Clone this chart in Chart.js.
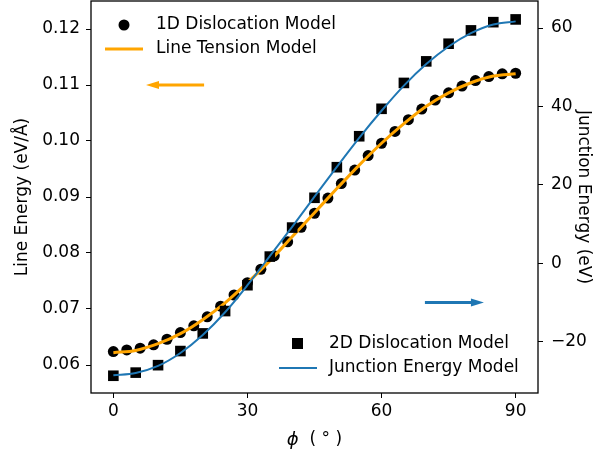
<!DOCTYPE html>
<html>
<head>
<meta charset="utf-8">
<script src="https://cdn.jsdelivr.net/npm/chart.js@4/dist/chart.umd.min.js"></script>
<style>
  body { margin: 0; background: #fff; }
  #wrap { width: 594px; height: 453px; }
</style>
</head>
<body>
<div id="wrap"><canvas id="junctionChart" width="594" height="453"></canvas></div>
<script>
// angles (deg)
const anglesCircles = [0, 3, 6, 9, 12, 15, 18, 21, 24, 27, 30, 33, 36, 39, 42, 45, 48, 51, 54, 57, 60, 63, 66, 69, 72, 75, 78, 81, 84, 87, 90];
const anglesSquares = [0, 5, 10, 15, 20, 25, 30, 35, 40, 45, 50, 55, 60, 65, 70, 75, 80, 85, 90];
const anglesModel = [0, 5, 10, 15, 20, 25, 30, 35, 40, 45, 50, 55, 60, 65, 70, 75, 80, 85, 90];

// 1D dislocation model, line energy (eV/A), left axis
const lineEnergy1D = [0.0624, 0.0627, 0.0630, 0.0636, 0.0646, 0.0658, 0.0670, 0.0686, 0.0705, 0.0725,
    0.0747, 0.0771, 0.0795, 0.0820, 0.0846, 0.0871, 0.0898, 0.0924, 0.0948, 0.0974,
    0.0996, 0.1017, 0.1038, 0.1057, 0.1073, 0.1086, 0.1098, 0.1108, 0.1115, 0.1120, 0.1121];
// line tension model (left axis)
const lineTension = [0.0622, 0.0626, 0.0638, 0.0656, 0.0681, 0.0711, 0.0747, 0.0786, 0.0829, 0.0872,
    0.0915, 0.0957, 0.0996, 0.1031, 0.1062, 0.1086, 0.1104, 0.1116, 0.1120];

// 2D dislocation model, junction energy (eV), right axis
const junction2D = [-28.7, -27.9, -26.0, -22.4, -17.9, -12.2, -5.6, 1.7, 9.1, 16.7,
    24.5, 32.4, 39.4, 46.0, 51.5, 56.0, 59.4, 61.5, 62.2];
// junction energy model (right axis)
const junctionModel = [-28.6, -28.0, -26.2, -22.9, -18.3, -12.5, -5.6, 1.8, 9.3, 17.0,
    24.6, 32.0, 38.9, 45.3, 50.8, 55.3, 58.7, 60.9, 61.7];

// ticks
const xTicks = [0, 30, 60, 90];
const yLeftTicks = [0.06, 0.07, 0.08, 0.09, 0.10, 0.11, 0.12];
const yRightTicks = [-20, 0, 20, 40, 60];

const ORANGE = '#ffa500';
const BLUE = '#1f77b4';
const FONT = 'DejaVu Sans';
const FSIZE = 17;

const toPoints = (xs, ys) => xs.map((x, i) => ({ x: x, y: ys[i] }));

// no extra padding from the end tick labels
const noPad = (scale) => {
    scale.paddingTop = 0;
    scale.paddingBottom = 0;
    scale.paddingLeft = 0;
    scale.paddingRight = 0;
};

// frame, legends, arrows and the x title (italic phi, upright rest)
const extrasPlugin = {
    id: 'extras',
    afterDraw(chart) {
        let ctx = chart.ctx;
        let a = chart.chartArea;
        let sx = chart.scales.x;
        let yl = chart.scales.yLeft;
        let yr = chart.scales.yRight;
        ctx.save();

        // frame
        ctx.strokeStyle = '#000';
        ctx.lineWidth = 1.3;
        ctx.strokeRect(a.left, a.top, a.right - a.left, a.bottom - a.top);

        // arrows
        const arrow = (x0, x1, y, color, dir) => {
            ctx.strokeStyle = color;
            ctx.fillStyle = color;
            ctx.lineWidth = 3;
            ctx.beginPath();
            ctx.moveTo(x0, y);
            ctx.lineTo(x1 - dir * 12, y);
            ctx.stroke();
            ctx.beginPath();
            ctx.moveTo(x1, y);
            ctx.lineTo(x1 - dir * 13, y - 4);
            ctx.lineTo(x1 - dir * 13, y + 4);
            ctx.closePath();
            ctx.fill();
        };
        arrow(sx.getPixelForValue(20.3), sx.getPixelForValue(7.3), yl.getPixelForValue(0.11), ORANGE, -1);
        arrow(sx.getPixelForValue(69.7), sx.getPixelForValue(82.9), yr.getPixelForValue(-10), BLUE, 1);

        ctx.textBaseline = 'middle';
        ctx.textAlign = 'left';
        ctx.fillStyle = '#000';

        // x axis title
        let phiFont = 'italic 18px "' + FONT + '"';
        let restFont = '17px "' + FONT + '"';
        ctx.font = phiFont;
        let wPhi = ctx.measureText('ϕ').width;
        ctx.font = restFont;
        let rest = '  ( ° )';
        let wRest = ctx.measureText(rest).width;
        let tx = (a.left + a.right) / 2 - (wPhi + wRest) / 2;
        ctx.font = phiFont;
        ctx.fillText('ϕ', tx, 440);
        ctx.font = restFont;
        ctx.fillText(rest, tx + wPhi, 440);

        // legends
        ctx.font = FSIZE + 'px "' + FONT + '"';

        // upper left
        ctx.beginPath();
        ctx.arc(a.left + 33, a.top + 24, 5.5, 0, Math.PI * 2);
        ctx.fill();
        ctx.fillText('1D Dislocation Model', a.left + 65, a.top + 24);
        ctx.strokeStyle = ORANGE;
        ctx.lineWidth = 3;
        ctx.beginPath();
        ctx.moveTo(a.left + 14, a.top + 48);
        ctx.lineTo(a.left + 52, a.top + 48);
        ctx.stroke();
        ctx.fillText('Line Tension Model', a.left + 65, a.top + 48);

        // lower right
        ctx.fillRect(a.right - 246, a.bottom - 55, 11, 11);
        ctx.fillText('2D Dislocation Model', a.right - 209, a.bottom - 49);
        ctx.strokeStyle = BLUE;
        ctx.lineWidth = 2;
        ctx.beginPath();
        ctx.moveTo(a.right - 259, a.bottom - 25);
        ctx.lineTo(a.right - 221, a.bottom - 25);
        ctx.stroke();
        ctx.fillText('Junction Energy Model', a.right - 209, a.bottom - 25);

        ctx.restore();
    }
};

let ctx = document.getElementById('junctionChart');
let myChart = new Chart(ctx, {
    type: 'scatter',
    data: {
        datasets: [
            {
                label: 'Junction Energy Model',
                data: toPoints(anglesModel, junctionModel),
                yAxisID: 'yRight',
                showLine: true,
                borderColor: BLUE,
                borderWidth: 2,
                pointRadius: 0,
                cubicInterpolationMode: 'monotone',
                order: 0
            },
            {
                label: '2D Dislocation Model',
                data: toPoints(anglesSquares, junction2D),
                yAxisID: 'yRight',
                pointStyle: 'rect',
                pointRadius: 7.5,
                backgroundColor: '#000',
                borderColor: '#000',
                borderWidth: 0,
                order: 1
            },
            {
                label: 'Line Tension Model',
                data: toPoints(anglesModel, lineTension),
                yAxisID: 'yLeft',
                showLine: true,
                borderColor: ORANGE,
                borderWidth: 3,
                pointRadius: 0,
                cubicInterpolationMode: 'monotone',
                order: 2
            },
            {
                label: '1D Dislocation Model',
                data: toPoints(anglesCircles, lineEnergy1D),
                yAxisID: 'yLeft',
                pointStyle: 'circle',
                pointRadius: 5.5,
                backgroundColor: '#000',
                borderColor: '#000',
                borderWidth: 0,
                order: 3
            }
        ]
    },
    options: {
        responsive: false,
        animation: false,
        devicePixelRatio: 1,
        layout: { autoPadding: false, padding: { top: 1, left: 0, right: 0, bottom: 0 } },
        plugins: {
            legend: { display: false },
            tooltip: { enabled: false }
        },
        scales: {
            x: {
                type: 'linear',
                min: -5,
                max: 95,
                afterBuildTicks: (scale) => { scale.ticks = xTicks.map(v => ({ value: v })); },
                afterFit: (scale) => { scale.height = 60; noPad(scale); },
                grid: { drawOnChartArea: false, drawTicks: true, tickLength: 5, color: '#000', lineWidth: 1 },
                border: { display: false },
                ticks: { color: '#000', font: { family: FONT, size: FSIZE }, padding: 3, maxRotation: 0 },
                title: { display: false }
            },
            yLeft: {
                type: 'linear',
                position: 'left',
                min: 0.055,
                max: 0.125,
                afterBuildTicks: (scale) => { scale.ticks = yLeftTicks.map(v => ({ value: v })); },
                afterFit: (scale) => { scale.width = 91; noPad(scale); },
                grid: { drawOnChartArea: false, drawTicks: true, tickLength: 5, color: '#000', lineWidth: 1 },
                border: { display: false },
                ticks: {
                    color: '#000',
                    font: { family: FONT, size: FSIZE },
                    padding: 6,
                    callback: (v) => v.toFixed(2)
                },
                title: {
                    display: true,
                    text: 'Line Energy (eV/Å)',
                    color: '#000',
                    font: { family: FONT, size: FSIZE },
                    padding: { top: 12, bottom: 0 }
                }
            },
            yRight: {
                type: 'linear',
                position: 'right',
                min: -33.1,
                max: 66.9,
                afterBuildTicks: (scale) => { scale.ticks = yRightTicks.map(v => ({ value: v })); },
                afterFit: (scale) => { scale.width = 56; noPad(scale); },
                grid: { drawOnChartArea: false, drawTicks: true, tickLength: 5, color: '#000', lineWidth: 1 },
                border: { display: false },
                ticks: {
                    color: '#000',
                    font: { family: FONT, size: FSIZE },
                    padding: 8,
                    callback: (v) => (v < 0 ? '\u2212' + Math.abs(v) : '' + v)
                },
                title: {
                    display: true,
                    text: 'Junction Energy (eV)',
                    color: '#000',
                    font: { family: FONT, size: FSIZE },
                    padding: { top: 0, bottom: 0 }
                }
            }
        }
    },
    plugins: [extrasPlugin]
});
</script>
</body>
</html>
